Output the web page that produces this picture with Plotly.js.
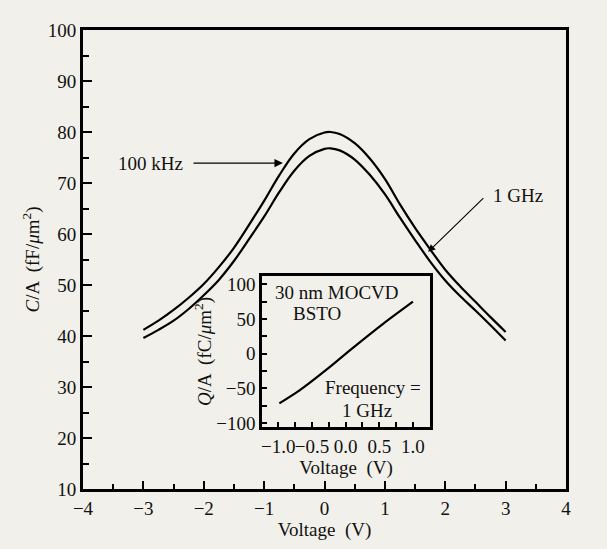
<!DOCTYPE html>
<html>
<head>
<meta charset="utf-8">
<script src="https://cdn.plot.ly/plotly-3.0.1.min.js"></script>
<style>html,body{margin:0;padding:0;background:#f2f0ea;}</style>
</head>
<body>
<div id="chart" style="width:607px;height:549px;"></div>
<script>
// Main C/A vs Voltage curves
const voltage = [-3.0,-2.75,-2.5,-2.25,-2.0,-1.75,-1.5,-1.25,-1.0,-0.75,-0.5,-0.25,0.0,0.1,0.25,0.5,0.75,1.0,1.25,1.5,1.75,2.0,2.25,2.5,2.75,3.0];
const ca100kHz = [41.2,43.0,45.1,47.5,50.2,53.5,57.3,61.8,66.5,71.5,75.8,78.6,79.9,80.0,79.6,77.8,74.8,70.8,65.8,61.2,57.0,53.0,49.7,46.7,43.7,40.8];
const ca1GHz   = [39.6,41.2,43.0,45.3,48.0,51.0,54.7,59.0,63.4,68.2,72.4,75.3,76.7,76.8,76.4,74.6,71.6,67.8,63.2,58.8,54.6,50.9,47.8,45.0,42.1,39.1];
// Inset Q/A vs Voltage
const insetVoltage = [-0.985,-0.68,-0.234,0.062,0.556,1.0];
const insetQA      = [-71.8,-52.7,-19.2,4.7,43,75];
// Tick labels
const xTicks = [-4,-3,-2,-1,0,1,2,3,4];
const yTicks = [10,20,30,40,50,60,70,80,90,100];
const insetXTicks = [-1.0,-0.5,0.0,0.5,1.0];
const insetXTickText = ['−1.0','−0.5','0.0','0.5','1.0'];
const insetYTicks = [-100,-50,0,50,100];

const font = {family:'"Liberation Serif", "Times New Roman", serif', size:19, color:'#111'};
const line = {color:'#000', width:2.2, shape:'spline', smoothing:1};

const traces = [
  {x:voltage, y:ca100kHz, type:'scatter', mode:'lines', line:line, xaxis:'x', yaxis:'y', hoverinfo:'skip'},
  {x:voltage, y:ca1GHz, type:'scatter', mode:'lines', line:line, xaxis:'x', yaxis:'y', hoverinfo:'skip'},
  {x:insetVoltage, y:insetQA, type:'scatter', mode:'lines', line:{color:'#000', width:2.2, shape:'spline', smoothing:0.8}, xaxis:'x2', yaxis:'y2', hoverinfo:'skip'}
];

const axisCommon = {
  showline:true, linecolor:'#000', linewidth:3, mirror:true,
  ticks:'inside', tickcolor:'#000', tickwidth:2,
  showgrid:false, zeroline:false, tickfont:font
};

const layout = {
  width:607, height:549,
  paper_bgcolor:'#f2f0ea', plot_bgcolor:'#f2f0ea',
  margin:{l:83, r:41, t:30, b:60},
  showlegend:false,
  font:font,
  xaxis: Object.assign({}, axisCommon, {
    range:[-4,4], tickvals:xTicks, ticklen:8, tickangle:0,
    minor:{dtick:0.5, tick0:0, ticks:'inside', ticklen:5, tickwidth:2, tickcolor:'#000', showgrid:false},
    title:{text:'Voltage  (V)', font:font, standoff:5}
  }),
  yaxis: Object.assign({}, axisCommon, {
    range:[10,100], tickvals:yTicks, ticklen:9,
    minor:{dtick:5, tick0:0, ticks:'inside', ticklen:6, tickwidth:2, tickcolor:'#000', showgrid:false},
    title:{text:'<i>C</i>/A  (fF/<i>μ</i>m<sup>2</sup>)', font:font, standoff:4}
  }),
  xaxis2: Object.assign({}, axisCommon, {
    domain:[0.371,0.718], anchor:'y2',
    range:[-1.24,1.25], tickvals:insetXTicks, ticktext:insetXTickText, ticklen:5, tickangle:0,
    minor:{dtick:0.25, tick0:0, ticks:'inside', ticklen:5, tickwidth:2, tickcolor:'#000', showgrid:false},
    title:{text:'Voltage  (V)', font:font, standoff:0}
  }),
  yaxis2: Object.assign({}, axisCommon, {
    domain:[0.135,0.464], anchor:'x2',
    range:[-106,112], tickvals:insetYTicks, ticklen:5,
    minor:{dtick:25, tick0:0, ticks:'inside', ticklen:5, tickwidth:2, tickcolor:'#000', showgrid:false},
    title:{text:'<i>Q</i>/A  (fC/<i>μ</i>m<sup>2</sup>)', font:font, standoff:0}
  }),
  annotations:[
    {xref:'x', yref:'y', x:-2.89, y:73.9, text:'100 kHz', showarrow:false, font:font},
    {xref:'x', yref:'y', axref:'x', ayref:'y', x:-0.689, y:73.9, ax:-2.195, ay:73.9, text:'', showarrow:true, arrowhead:2, arrowsize:1.3, arrowwidth:1.3, arrowcolor:'#000'},
    {xref:'x', yref:'y', x:3.20, y:67.6, text:'1 GHz', showarrow:false, font:font},
    {xref:'x', yref:'y', axref:'x', ayref:'y', x:1.716, y:56.5, ax:2.656, ay:67.3, text:'', showarrow:true, arrowhead:2, arrowsize:1.3, arrowwidth:1.1, arrowcolor:'#000'},
    {xref:'x2', yref:'y2', x:-0.13, y:88.5, text:'30 nm MOCVD', showarrow:false, font:font},
    {xref:'x2', yref:'y2', x:-0.43, y:57.5, text:'BSTO', showarrow:false, font:font},
    {xref:'x2', yref:'y2', x:0.41, y:-49, text:'Frequency =', showarrow:false, font:font},
    {xref:'x2', yref:'y2', x:0.31, y:-81.8, text:'1 GHz', showarrow:false, font:font}
  ]
};

Plotly.newPlot('chart', traces, layout, {displayModeBar:false, staticPlot:true});
</script>
</body>
</html>
